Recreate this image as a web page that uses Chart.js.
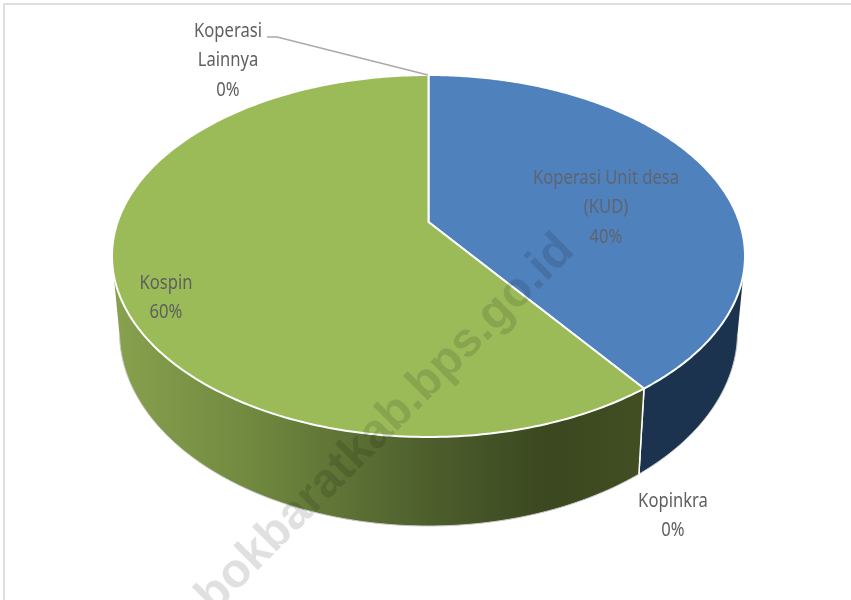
<!DOCTYPE html>
<html><head><meta charset="utf-8">
<style>html,body{margin:0;padding:0;background:#fff}canvas{display:block}</style>
<script src="https://cdn.jsdelivr.net/npm/chart.js@4"></script>
</head><body><canvas id="c" width="851" height="600"></canvas>
<script>
const categories = ["Koperasi Unit desa (KUD)", "Kopinkra", "Kospin", "Koperasi Lainnya"];
const shares = [40, 0, 60, 0];
const topColors = ["#4f81bd", "#1c3350", "#9bbb59", "#a6a6a6"];
const labelLines = [["Koperasi Unit desa", "(KUD)", "40%"], ["Kopinkra", "0%"], ["Kospin", "60%"], ["Koperasi", "Lainnya", "0%"]];
const labelAnchors = [[606, 178], [673, 501], [166, 283], [228, 31]];

const BASE_R = 255;
const RX = 316.5 / BASE_R, RY = 181 / BASE_R, TILT = -0.188;
const LOW_RX = 309 / BASE_R, LOW_RY = 194 / BASE_R, LOW_DY = 76;

function project(el, a, rx, ry, dy) {
  const t = a + Math.PI / 2, ux = Math.sin(t), uy = -Math.cos(t);
  const d = 1 + TILT * uy;
  const mx = ux * Math.sqrt(1 - TILT * TILT) / d, my = (uy + TILT) / d;
  return { x: el.x + mx * rx * el.outerRadius, y: el.y + dy + my * ry * el.outerRadius, my };
}
function wallFill(ctx, index) {
  if (index === 0) return "#1c3350";
  const g = ctx.createLinearGradient(115, 0, 640, 0);
  g.addColorStop(0, "#87a14e");
  g.addColorStop(0.25, "#718a40");
  g.addColorStop(0.6, "#4d5e2c");
  g.addColorStop(0.82, "#3b4820");
  g.addColorStop(1, "#414e22");
  return g;
}
Chart.ArcElement.prototype.draw = function (ctx) {
  if (this.circumference <= 0) return;
  const o = this.options, n = 240, top = [], low = [];
  for (let i = 0; i <= n; i++) {
    const a = this.startAngle + (this.endAngle - this.startAngle) * i / n;
    const p = project(this, a, RX, RY, 0);
    top.push(p);
    if (p.my >= 0) low.push({ t: p, b: project(this, a, LOW_RX, LOW_RY, LOW_DY) });
  }
  ctx.save();
  if (low.length > 1) {
    ctx.beginPath();
    low.forEach((q, i) => i ? ctx.lineTo(q.t.x, q.t.y) : ctx.moveTo(q.t.x, q.t.y));
    low.slice().reverse().forEach(q => ctx.lineTo(q.b.x, q.b.y));
    ctx.closePath();
    ctx.fillStyle = wallFill(ctx, o.backgroundColor === topColors[0] ? 0 : 2);
    ctx.fill();
    ctx.beginPath();
    low.forEach((q, i) => i ? ctx.lineTo(q.b.x, q.b.y) : ctx.moveTo(q.b.x, q.b.y));
    ctx.strokeStyle = "#c8c8c8"; ctx.lineWidth = 1; ctx.stroke();
    const seam = o.backgroundColor === topColors[0] ? low[low.length - 1] : low[0];
    ctx.beginPath(); ctx.moveTo(seam.t.x, seam.t.y); ctx.lineTo(seam.b.x, seam.b.y);
    ctx.strokeStyle = "#fff"; ctx.lineWidth = 1.5; ctx.stroke();
  }
  const apex = { x: this.x, y: this.y + TILT * RY * this.outerRadius };
  ctx.beginPath();
  ctx.moveTo(apex.x, apex.y);
  top.forEach(p => ctx.lineTo(p.x, p.y));
  ctx.closePath();
  ctx.fillStyle = o.backgroundColor;
  ctx.fill();
  ctx.strokeStyle = o.borderColor; ctx.lineWidth = o.borderWidth; ctx.lineJoin = "miter";
  ctx.stroke();
  ctx.restore();
};

const frameAndText = {
  id: "frameAndText",
  beforeDraw(chart) {
    const ctx = chart.ctx;
    ctx.save();
    ctx.fillStyle = "#fff"; ctx.fillRect(0, 0, 851, 600);
    ctx.strokeStyle = "#dfdfdf"; ctx.lineWidth = 2;
    ctx.beginPath(); ctx.moveTo(4, 600); ctx.lineTo(4, 4); ctx.lineTo(851, 4); ctx.stroke();
    ctx.restore();
  },
  afterDraw(chart) {
    const ctx = chart.ctx;
    ctx.save();
    ctx.strokeStyle = "#a9a9a9"; ctx.lineWidth = 1.5;
    ctx.beginPath(); ctx.moveTo(267, 37); ctx.lineTo(277, 37); ctx.lineTo(428, 75); ctx.stroke();
    ctx.font = '20px "Noto Sans"';
    ctx.textAlign = "center"; ctx.textBaseline = "middle";
    labelLines.forEach((lines, i) => {
      ctx.fillStyle = i === 0 ? "#5f6470" : "#5f5f5f";
      lines.forEach((s, j) => {
        const sx = 0.83;
        ctx.save();
        ctx.translate(labelAnchors[i][0], labelAnchors[i][1] + j * 29.5);
        ctx.scale(sx, 1);
        ctx.fillText(s, 0, 0);
        ctx.restore();
      });
    });
    ctx.translate(576, 252);
    ctx.rotate(-Math.PI / 4);
    ctx.font = 'bold 48px "Liberation Sans"';
    ctx.textAlign = "right"; ctx.textBaseline = "alphabetic";
    ctx.fillStyle = "rgba(0,0,0,0.12)";
    ctx.fillText("lombokbaratkab.bps.go.id", 0, 0);
    ctx.restore();
  }
};

new Chart(document.getElementById("c"), {
  type: "pie",
  data: { labels: categories, datasets: [{ data: shares, backgroundColor: topColors, borderColor: "#ffffff", borderWidth: 2 }] },
  options: {
    responsive: false, animation: false,
    layout: { padding: { left: 6, top: 0, right: 0, bottom: 88 } },
    plugins: { legend: { display: false }, tooltip: { enabled: false } }
  },
  plugins: [frameAndText]
});
</script></body></html>
